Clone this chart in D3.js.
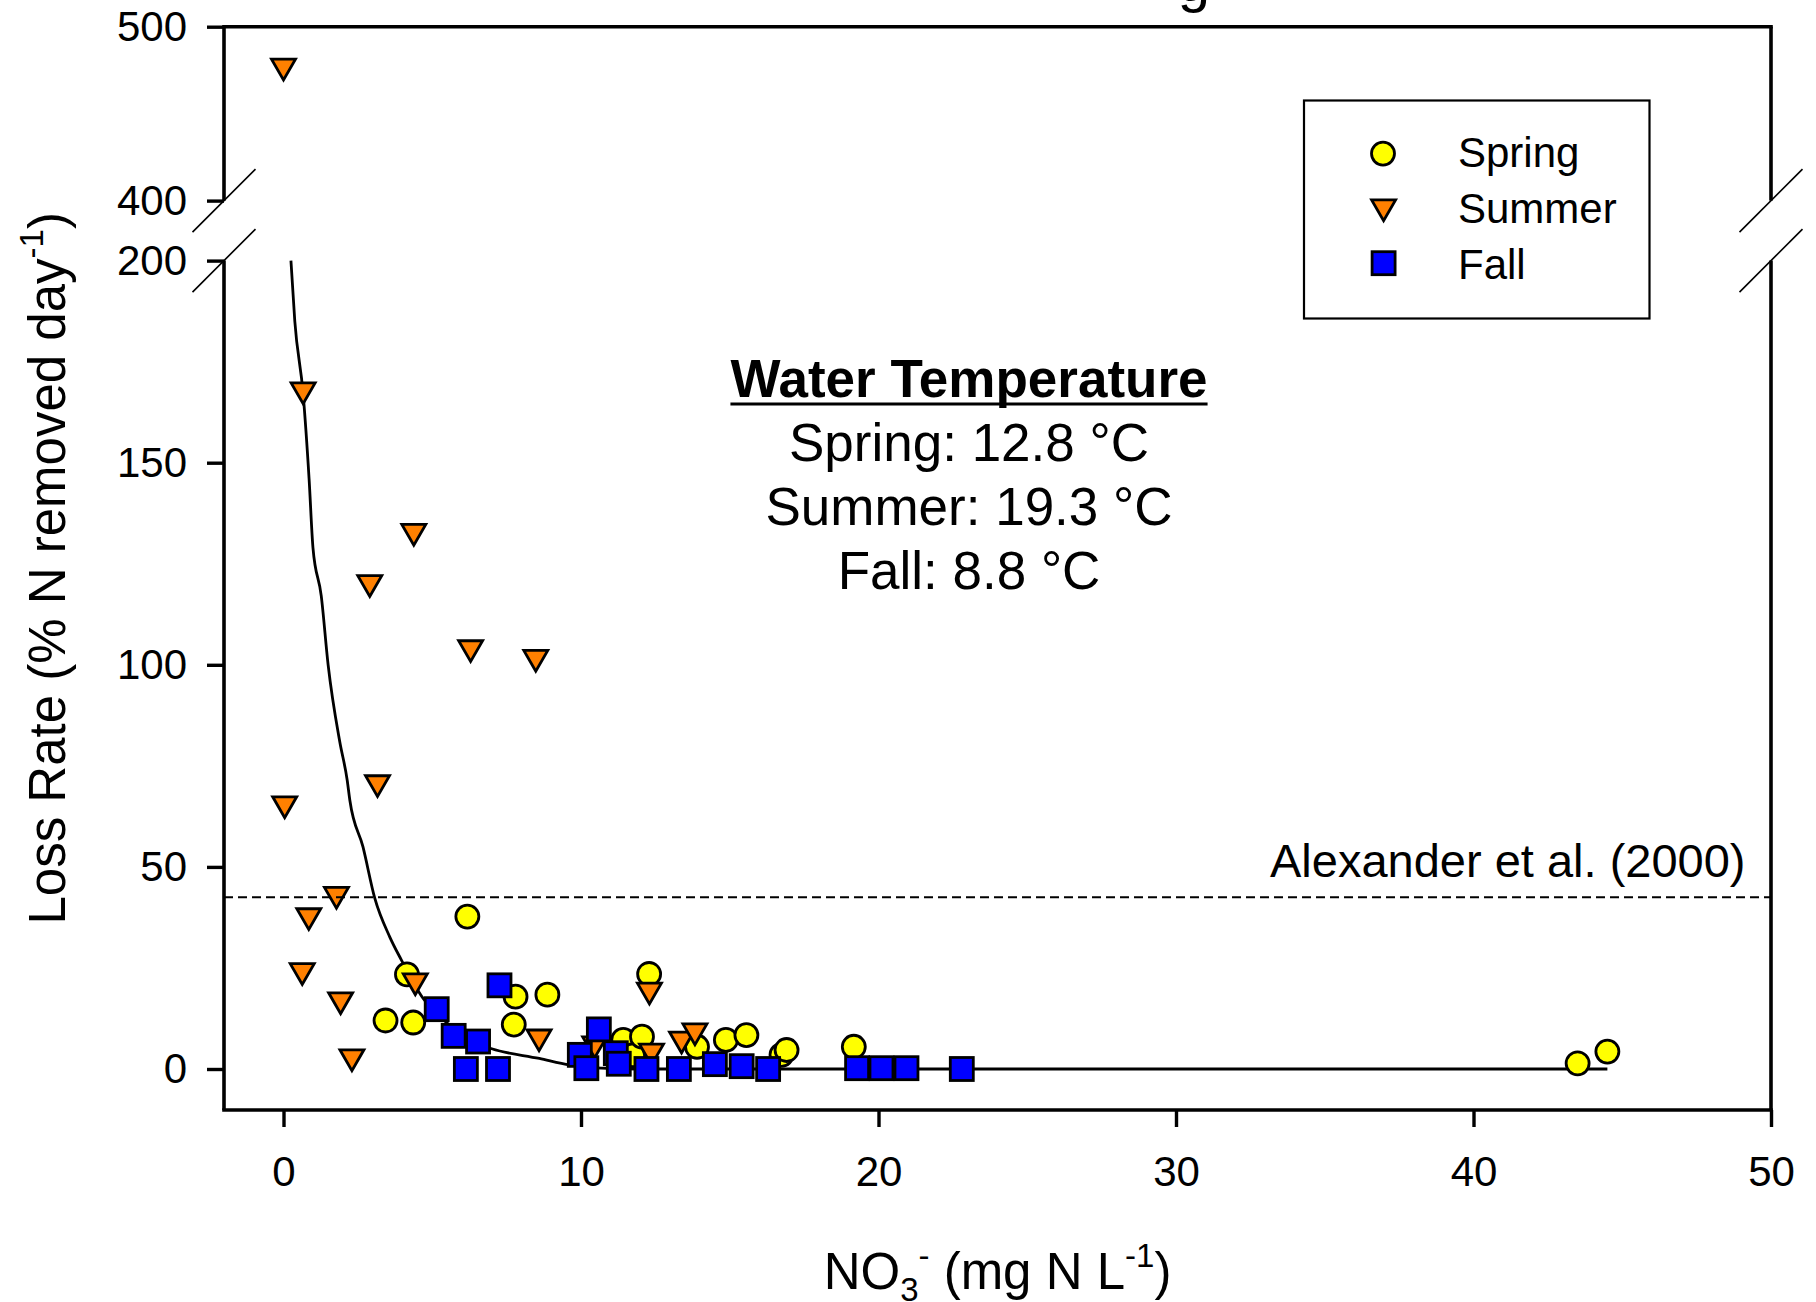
<!DOCTYPE html>
<html>
<head>
<meta charset="utf-8">
<script src="https://cdn.jsdelivr.net/npm/d3@7"></script>
<style>
  html, body { margin: 0; padding: 0; background: #fff; }
  svg text { font-family: "Liberation Sans", Arial, sans-serif; fill: #000; }
</style>
</head>
<body>
<svg id="chart" width="1816" height="1302"></svg>
<script>
// ---------------- data ----------------
const spring = [
  [3.43, 12.0], [4.15, 23.4], [4.36, 11.5], [6.18, 37.7], [7.74, 11.0],
  [7.80, 17.9], [8.87, 18.4], [11.42, 7.2], [11.75, 3.4], [12.05, 8.0],
  [12.29, 23.5], [13.90, 5.5], [14.87, 7.2], [15.56, 8.4], [16.74, 3.5],
  [16.91, 4.7], [19.17, 5.5], [43.5, 1.4], [44.5, 4.3]
];
const summer = [
  [0.0, 475], [0.66, 167], [4.38, 132], [2.90, 119.3], [6.29, 103.2],
  [8.48, 100.8], [0.04, 64.6], [3.16, 69.8], [1.78, 42.2], [0.85, 36.9],
  [0.63, 23.3], [1.92, 16.1], [2.30, 2.0], [4.43, 20.8], [8.59, 6.9],
  [12.30, 18.5], [12.37, 3.4], [10.46, 5.2], [13.38, 6.4], [13.83, 8.4]
];
const fall = [
  [5.15, 14.8], [5.72, 8.2], [6.54, 6.8], [6.13, 0.0], [7.21, 0.0],
  [7.26, 20.7], [9.96, 3.5], [10.18, 0.2], [10.60, 9.8], [11.17, 3.9],
  [11.27, 1.3], [12.20, 0.0], [13.29, 0.0], [14.50, 1.2], [15.40, 0.7],
  [16.29, 0.0], [19.28, 0.2], [20.10, 0.2], [20.94, 0.2], [22.80, 0.0]
];
const fitCurve = [
  [0.25, 200], [0.38, 185], [0.66, 167], [0.86, 146], [0.99, 129],
  [1.27, 117], [1.50, 100], [1.89, 81], [2.14, 71.5], [2.23, 66.5],
  [2.67, 55], [3.07, 42.2], [3.57, 32.7], [3.96, 27], [4.69, 17.5],
  [5.40, 12], [6.55, 6.2], [7.00, 5.0], [8.60, 2.6], [9.62, 1.0],
  [10.5, 0.3], [12.0, 0.0], [44.5, 0.0]
];
const alexanderRate = 42.5;
const xTicks = [0, 10, 20, 30, 40, 50];
const yTicksLow = [0, 50, 100, 150, 200];
const yTicksHigh = [400, 500];
const legendItems = ["Spring", "Summer", "Fall"];
const tempLines = ["Spring: 12.8 °C", "Summer: 19.3 °C", "Fall: 8.8 °C"];

// ---------------- layout ----------------
const L = 224, R = 1771, T = 26.7, B = 1110;
const svg = d3.select("#chart");
svg.append("rect").attr("width", 1816).attr("height", 1302).attr("fill", "#fff");

const x = d3.scaleLinear().domain([-2, 50]).range([L, R]);
const yLow = d3.scaleLinear().domain([0, 200]).range([1069, 260.6]);
const yHigh = d3.scaleLinear().domain([400, 500]).range([200.6, T]);
const yAny = v => v >= 400 ? yHigh(v) : yLow(v);

// fitted curve (under markers)
svg.append("path")
  .datum(fitCurve)
  .attr("d", d3.line().curve(d3.curveMonotoneX).x(d => x(d[0])).y(d => yLow(d[1])))
  .attr("fill", "none").attr("stroke", "#000").attr("stroke-width", 2.8)
  .attr("stroke-linejoin", "round");

// markers
const SW = 2.8;
const triPath = "M-12,-11.1L12,-11.1L0,9.7Z";
svg.append("g").selectAll("circle").data(spring).join("circle")
  .attr("cx", d => x(d[0])).attr("cy", d => yAny(d[1])).attr("r", 11.5)
  .attr("fill", "#ffff00").attr("stroke", "#000").attr("stroke-width", SW);
svg.append("g").selectAll("path").data(summer).join("path")
  .attr("transform", d => `translate(${x(d[0])},${yAny(d[1])})`)
  .attr("d", triPath)
  .attr("fill", "#ff8000").attr("stroke", "#000").attr("stroke-width", SW);
svg.append("g").selectAll("rect").data(fall).join("rect")
  .attr("x", d => x(d[0]) - 11.5).attr("y", d => yAny(d[1]) - 11.5)
  .attr("width", 23).attr("height", 23)
  .attr("fill", "#0000ff").attr("stroke", "#000").attr("stroke-width", SW);

// Alexander et al. reference line
svg.append("line")
  .attr("x1", L).attr("x2", R)
  .attr("y1", yLow(alexanderRate)).attr("y2", yLow(alexanderRate))
  .attr("stroke", "#000").attr("stroke-width", 2).attr("stroke-dasharray", "9,5");
svg.append("text").attr("x", 1745.5).attr("y", 877)
  .attr("text-anchor", "end").attr("font-size", 47)
  .text("Alexander et al. (2000)");

// frame (broken axes)
const AW = 3.6;
const frame = svg.append("g").attr("stroke", "#000").attr("stroke-width", AW).attr("fill", "none");
frame.append("line").attr("x1", L - AW / 2).attr("x2", R + AW / 2).attr("y1", T).attr("y2", T);
frame.append("line").attr("x1", L - AW / 2).attr("x2", R + AW / 2).attr("y1", B).attr("y2", B);
[L, R].forEach(px => {
  frame.append("line").attr("x1", px).attr("x2", px).attr("y1", T).attr("y2", yHigh(400));
  frame.append("line").attr("x1", px).attr("x2", px).attr("y1", yLow(200)).attr("y2", B);
  // break marks
  [yHigh(400), yLow(200)].forEach(py => {
    svg.append("line")
      .attr("x1", px - 31.5).attr("y1", py + 31.5)
      .attr("x2", px + 31.5).attr("y2", py - 31.5)
      .attr("stroke", "#000").attr("stroke-width", 1.6);
  });
});

// axes (ticks + labels)
function styleAxis(g) {
  g.select(".domain").remove();
  g.selectAll(".tick line").attr("stroke", "#000").attr("stroke-width", 3.4);
  g.selectAll(".tick text").attr("font-size", 42)
    .attr("font-family", '"Liberation Sans", Arial, sans-serif').attr("fill", "#000");
}
svg.append("g").attr("transform", `translate(${L},0)`)
  .call(d3.axisLeft(yLow).tickValues(yTicksLow).tickSize(17).tickPadding(20).tickFormat(d3.format("d")))
  .call(styleAxis);
svg.append("g").attr("transform", `translate(${L},0)`)
  .call(d3.axisLeft(yHigh).tickValues(yTicksHigh).tickSize(17).tickPadding(20).tickFormat(d3.format("d")))
  .call(styleAxis);
svg.append("g").attr("transform", `translate(0,${B})`)
  .call(d3.axisBottom(x).tickValues(xTicks).tickSize(17).tickPadding(29).tickFormat(d3.format("d")))
  .call(styleAxis);

// axis titles
const xt = svg.append("text").attr("x", (L + R) / 2).attr("y", 1289)
  .attr("text-anchor", "middle").attr("font-size", 51);
xt.append("tspan").text("NO");
xt.append("tspan").attr("font-size", 33).attr("dy", 12).text("3");
xt.append("tspan").attr("font-size", 33).attr("dy", -34).text("-");
xt.append("tspan").attr("dy", 22).text(" (mg N L");
xt.append("tspan").attr("font-size", 33).attr("dy", -22).text("-1");
xt.append("tspan").attr("dy", 22).text(")");

const yt = svg.append("text")
  .attr("transform", `translate(65,${(T + B) / 2}) rotate(-90)`)
  .attr("text-anchor", "middle").attr("font-size", 51);
yt.append("tspan").text("Loss Rate (% N removed day");
yt.append("tspan").attr("font-size", 33).attr("dy", -22).text("-1");
yt.append("tspan").attr("dy", 22).text(")");

// cut-off title (only the descender is visible)
svg.append("text").attr("x", 1194).attr("y", 1).attr("text-anchor", "middle")
  .attr("font-size", 58).text("g");

// legend
svg.append("rect").attr("x", 1304).attr("y", 100.5).attr("width", 345.5).attr("height", 218)
  .attr("fill", "#fff").attr("stroke", "#000").attr("stroke-width", 2.2);
const legY = [153.6, 211, 263.2];
const legTextY = [167, 223, 279];
const lg = svg.append("g");
lg.append("circle").attr("cx", 1383).attr("cy", legY[0]).attr("r", 11.5)
  .attr("fill", "#ffff00").attr("stroke", "#000").attr("stroke-width", SW);
lg.append("path").attr("transform", `translate(1383.6,${legY[1]})`).attr("d", triPath)
  .attr("fill", "#ff8000").attr("stroke", "#000").attr("stroke-width", SW);
lg.append("rect").attr("x", 1383.6 - 11.5).attr("y", legY[2] - 11.5).attr("width", 23).attr("height", 23)
  .attr("fill", "#0000ff").attr("stroke", "#000").attr("stroke-width", SW);
legendItems.forEach((t, i) => {
  lg.append("text").attr("x", 1458).attr("y", legTextY[i]).attr("font-size", 42).text(t);
});

// water temperature annotation
const cx = 969;
const head = svg.append("text").attr("x", cx).attr("y", 397).attr("text-anchor", "middle")
  .attr("font-size", 53).attr("font-weight", "bold").text("Water Temperature");
const hw = head.node().getComputedTextLength();
svg.append("line").attr("x1", cx - hw / 2).attr("x2", cx + hw / 2)
  .attr("y1", 404).attr("y2", 404).attr("stroke", "#000").attr("stroke-width", 3);
tempLines.forEach((t, i) => {
  svg.append("text").attr("x", cx).attr("y", 461 + i * 64).attr("text-anchor", "middle")
    .attr("font-size", 53).attr("fill", "#000").text(t);
});
</script>
</body>
</html>
